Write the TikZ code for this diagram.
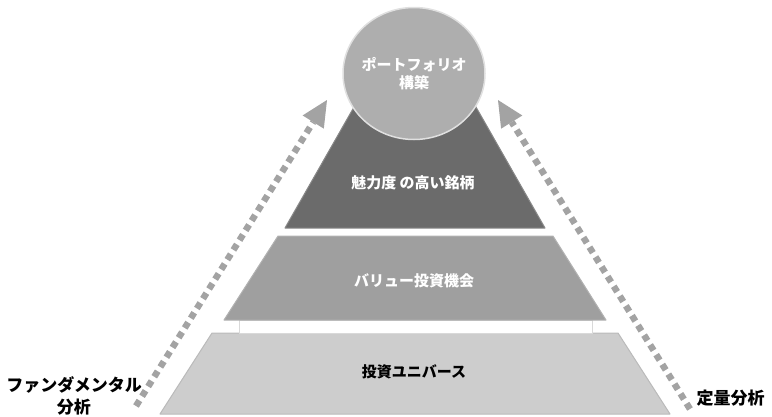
\documentclass[tikz,border=0pt]{standalone}
\usepackage{fontspec}
\newfontfamily\jpfont{Noto Sans CJK JP}
\usepackage{xcolor}
\usepackage{tikz}
\usetikzlibrary{arrows.meta,calc}
\definecolor{layertop}{HTML}{6B6B6B}
\definecolor{layermid}{HTML}{9F9F9F}
\definecolor{layerbase}{HTML}{CDCDCD}
\definecolor{topball}{HTML}{AEAEAE}
\definecolor{flowgray}{HTML}{A3A3A3}

\begin{document}
\begin{tikzpicture}[x=1pt,y=-1pt,
    layer/.style={line width=1pt,line join=round},
    inlabel/.style={font=\jpfont\bfseries\fontsize{15}{18}\selectfont,text=white,align=center},
    outlabel/.style={font=\jpfont\bfseries\fontsize{17}{22}\selectfont,text=black,align=center},
    flow/.style={flowgray,line width=6.5pt,dash pattern=on 6.5pt off 5pt,
        -{Triangle[length=26pt,width=25pt,line width=0pt]}}]
    \useasboundingbox (0,0) rectangle (772,416);
    % Analysis arrows
    \coordinate (fstart) at (136,406);
    \coordinate (fend) at (327,100);
    \coordinate (qstart) at (690,409);
    \coordinate (qend) at (498,100);
    \draw[flow] (fstart) -- (fend);
    \draw[flow] (qstart) -- (qend);
    % Layers
    \draw[layer,fill=layerbase,draw=black!27] (212,333) -- (618,333) -- (670,414) -- (160,414) -- cycle;
    \draw[fill=white,draw=black!15] (239,320) rectangle (592,333);
    \draw[layer,fill=layermid,draw=layermid!80!white] (278,236) -- (553,236) -- (606,320) -- (224,320) -- cycle;
    \draw[layer,fill=layertop,draw=layertop!80!white] (358,100) -- (472,100) -- (545,228) -- (285,228) -- cycle;
    \draw[fill=topball,draw=black!12,line width=1.5pt] (414,73.5) ellipse [x radius=71pt,y radius=66pt];
    % Labels
    \node[inlabel] (port) at (414,74) {ポートフォリオ\\構築};
    \node[inlabel] (pick) at (413,183) {魅力度 の高い銘柄};
    \node[inlabel] (value) at (414,281) {バリュー投資機会};
    \node[inlabel,text=black] (universe) at (414,372) {投資ユニバース};
    \node[outlabel] (fund) at (74,396) {ファンダメンタル\\分析};
    \node[outlabel,anchor=west] (quant) at (693,398) {定量分析};
\end{tikzpicture}
\end{document}
